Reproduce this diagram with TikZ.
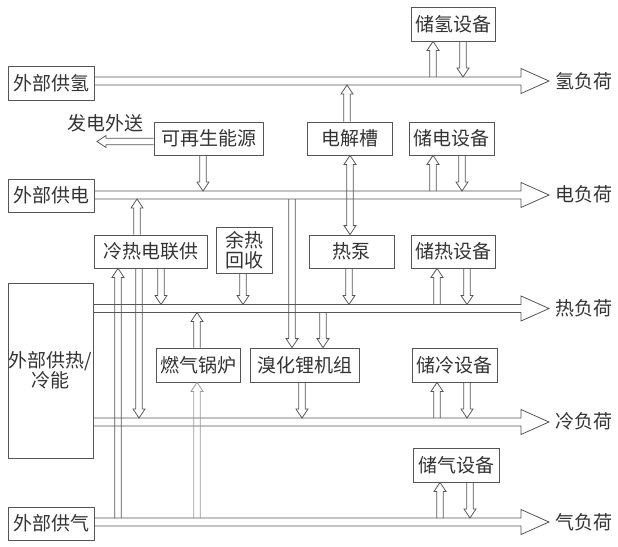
\documentclass[tikz,border=0pt]{standalone}
\usepackage{fontspec}
\setmainfont{Noto Sans CJK SC}
\usetikzlibrary{calc}
\definecolor{linegray}{HTML}{555555}
\definecolor{lightgray}{HTML}{9A9A9A}
\definecolor{textgray}{HTML}{333333}

\begin{document}
\begin{tikzpicture}
[x=1pt,y=-1pt,%
  hollow/.style n args={3}{to path={
    let \p1=(\tikztostart), \p2=(\tikztotarget), \p3=($(\p2)!#3!(\p1)$) in
    ($(\p1)!#1!90:(\p2)$) -- ($(\p3)!#1!90:(\p2)$) -- ($(\p3)!#2!90:(\p2)$) -- (\p2)
    -- ($(\p3)!#2!-90:(\p2)$) -- ($(\p3)!#1!-90:(\p2)$) -- ($(\p1)!#1!-90:(\p2)$)}},%
  arrowDecorate/.style={draw=linegray,line width=0.8pt,hollow={3.3pt}{6pt}{9pt}},%
  busDecorate/.style={draw=linegray,line width=0.8pt,hollow={4pt}{12.5pt}{28pt}},%
  nodeDecorate/.style={shape=rectangle,draw=linegray,line width=0.8pt,inner sep=0pt,
    align=center,text=textgray,font=\fontsize{19}{20}\selectfont},%
  labelDecorate/.style={text=textgray,inner sep=0pt,font=\fontsize{19}{20}\selectfont}]
\useasboundingbox (0,0) rectangle (618,546);
%% boxes
\foreach \nodename/\xpos/\ypos/\w/\h/\txt in {
  hsrc/51/83/86/34/外部供氢, esrc/51/195.5/86/33/外部供电,
  hcsrc/50.5/370.5/85/175/{外部供热/\\冷能}, gsrc/51/523.5/86/33/外部供气,
  hsto/453/24/84/34/储氢设备, res/208.5/138.5/109/33/可再生能源,
  ely/349.5/138.5/85/33/电解槽, esto/451.5/138.5/85/33/储电设备,
  cchp/150.5/251.5/113/33/冷热电联供, whr/244/250/56/46/{余热\\回收},
  hp/351.5/251.5/85/33/热泵, tsto/453/251.5/84/33/储热设备,
  boil/198/365/84/34/燃气锅炉, libr/304.5/365/109/34/溴化锂机组,
  csto/454.5/365/85/34/储冷设备, gsto/456/465/86/34/储气设备}
{
  \node (\nodename) at (\xpos,\ypos) [nodeDecorate,minimum width=\w pt,minimum height=\h pt] {\txt};
}
%% loads
\foreach \nodename/\ypos/\txt in {
  hl/81/氢负荷, el/194/电负荷, tl/308/热负荷, cl/421/冷负荷, gl/522/气负荷}
{
  \node (\nodename) at (555,\ypos) [labelDecorate,anchor=west] {\txt};
}
\node (exportlabel) at (105,123) [labelDecorate] {发电外送};
\coordinate (export) at (97,141.5);
%% buses
\foreach \bus/\ypos in {hb/81, eb/195, tb/308.5, cb/422, gb/522}
{
  \coordinate (\bus) at (0,\ypos);
  \coordinate (\bus-top) at (0,\ypos-4);
  \coordinate (\bus-bot) at (0,\ypos+4);
  \coordinate (\bus-tip) at (549,\ypos);
}
\path
\foreach \startnode/\bus in {hsrc/hb, esrc/eb, hcsrc/tb, hcsrc/cb, gsrc/gb}
{
  (\startnode.east |- \bus) edge[busDecorate] (\bus-tip)
};
%% small arrows
\path
\foreach \xpos/\src/\dst in {
  433/hb-top/hsto.south, 463/hsto.south/hb-top, 347/ely.north/hb-bot,
  350/eb/ely.south, 350/eb/hp.north, 433/eb-top/esto.south, 462/esto.south/eb-top,
  203/res.south/eb-top, 137/cchp.north/eb-bot, 118/gb-top/cchp.south,
  139/cchp.south/cb-top, 161/cchp.south/tb-top, 243/whr.south/tb-top,
  349/hp.south/tb-top, 437/tb-top/tsto.south, 467/tsto.south/tb-top,
  197/boil.north/tb-bot, 292/eb-bot/libr.north, 323/tb-bot/libr.north,
  302/libr.south/cb-top, 437/cb-top/csto.south, 467/csto.south/cb-top,
  440/gb-top/gsto.south, 470/gsto.south/gb-top}
{
  (\xpos,0 |- \src) edge[arrowDecorate] (\xpos,0 |- \dst)
};
\path (197,0 |- gb-top) edge[arrowDecorate,draw=lightgray] (197,0 |- boil.south);
\path (res.west |- export) edge[arrowDecorate] (export);
\end{tikzpicture}
\end{document}
